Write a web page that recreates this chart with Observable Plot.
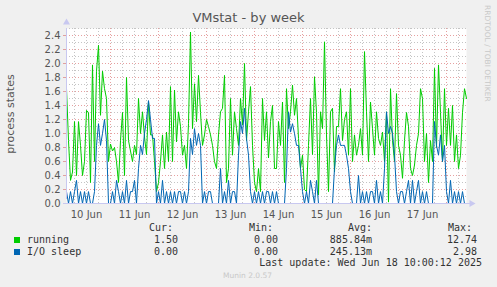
<!DOCTYPE html>
<html><head><meta charset="utf-8">
<script src="https://cdn.jsdelivr.net/npm/d3@7"></script>
<script src="https://cdn.jsdelivr.net/npm/@observablehq/plot@0.6"></script>
<style>
body{margin:0;background:#f0f0f0;}
#wrap{position:relative;width:497px;height:287px;overflow:hidden;font-family:"DejaVu Sans",sans-serif;background:#f0f0f0;}
#wrap svg{position:absolute;left:0;top:0;}
.t{position:absolute;white-space:pre;line-height:12px;}
.mono{font-family:"DejaVu Sans Mono",monospace;font-size:10px;color:#333;}
.r{text-align:right;}
.sq{position:absolute;width:6px;height:6px;}
</style></head><body><div id="wrap"></div>
<script>
// ---- data (hourly averages) ----
const startTime = Date.UTC(2025, 5, 10, 2, 0);
const endTime = Date.UTC(2025, 5, 18, 10, 0);
const stepMs = 3600e3;

const running = [
  1.64, 0.9, 0.33, 0.45, 1.17, 0.4, 1.17, 0.83, 0.4, 0.6,
  1.33, 1.3, 0.3, 1.98, 0.6, 1.89, 2.26, 1.26, 1.89, 1.64,
  1.5, 0.6, 0.85, 0.75, 0.8, 0.6, 0.3, 0.9, 1.3, 0.4,
  1.8, 0.9, 0.75, 0.6, 0.83, 0.7, 1.5, 1.0, 1.31, 0.95,
  0.7, 1.45, 0.98, 0.98, 0.6, 0.17, 0.3, 0.6, 0.98, 0.5,
  1.02, 0.6, 1.67, 0.6, 1.62, 0.88, 1.31, 1.1, 0.69, 0.83,
  0.5, 1.14, 2.45, 1.07, 1.71, 1.17, 1.83, 1.3, 0.83, 0.98,
  1.2, 1.1, 0.98, 0.83, 0.6, 0.5, 0.98, 1.31, 1.36, 1.83,
  0.3, 0.5, 1.5, 0.69, 1.31, 1.07, 0.83, 1.5, 1.12, 2.0,
  0.9, 1.31, 1.67, 0.83, 0.3, 0.17, 0.5, 0.17, 1.5, 0.9,
  1.31, 0.65, 1.17, 1.4, 0.5, 0.5, 1.17, 0.83, 1.45, 0.3,
  1.64, 1.07, 1.31, 1.69, 1.26, 1.5, 0.93, 0.5, 0.69, 0.2,
  0.17, 0.83, 1.5, 0.7, 1.81, 1.3, 0.12, 1.31, 1.07, 2.31,
  0.98, 0.17, 1.31, 1.36, 0.45, 1.1, 1.1, 1.64, 0.9, 1.2,
  1.31, 0.69, 1.64, 0.6, 0.98, 0.69, 0.83, 1.07, 0.69, 2.17,
  1.31, 0.6, 1.45, 1.07, 0.69, 1.31, 0.93, 0.83, 1.02, 0.6,
  1.31, 0.02, 1.64, 0.9, 0.6, 1.57, 0.83, 0.69, 0.36, 0.9,
  1.3, 1.1, 0.5, 0.4, 0.55, 0.83, 1.0, 1.64, 1.5, 0.6,
  1.0, 0.3, 0.9, 0.6, 1.93, 0.8, 1.98, 1.3, 0.6, 1.64,
  0.83, 1.36, 0.83, 1.4, 0.6, 0.98, 0.5, 0.69, 1.3, 1.64, 1.5
];
const ioSleep = [
  0.17, 0, 0.17, 0, 0.17, 0.33, 0, 0.17, 0, 0.17,
  0, 0.17, 0, 0, 0.17, 0.83, 1.14, 0.83, 1.0, 1.2,
  0.9, 0, 0, 0.17, 0, 0.33, 0.17, 0, 0.17, 0,
  0.33, 0, 0.17, 0.17, 0.33, 0, 0.5, 0.83, 0.7, 1.0,
  1.2, 1.47, 1.2, 0.93, 0.93, 0, 0.17, 0, 0.33, 0,
  0.17, 0, 0.17, 0, 0.17, 0, 0.17, 0.17, 0, 0.17,
  0, 0.17, 0.93, 0.7, 1.07, 0.83, 1.0, 0.83, 0, 0.17,
  0, 0.17, 0.17, 0, 0, 0, 0, 0.5, 0, 0.17,
  0, 0.33, 0, 0.17, 0.17, 0, 0.69, 1.17, 1.0, 1.36,
  0.93, 0.69, 0.17, 0, 0.17, 0, 0.17, 0, 0.17, 0,
  0.17, 0.17, 0, 0.17, 0, 0.17, 0, 0, 0, 0,
  0.5, 1.31, 1.02, 1.14, 1.0, 0.83, 0.83, 0.5, 0.17, 0,
  0.17, 0, 0.33, 0.17, 0, 0.33, 0, 0, 0, 0,
  0, 0, 0, 0, 0.5, 0.83, 0.98, 0.83, 0.83, 0.83,
  0.69, 0.5, 0.17, 0, 0, 0, 0.4, 0, 0.17, 0,
  0.17, 0, 0.17, 0.17, 0, 0.33, 0, 0.17, 0, 0.5,
  1.31, 1.0, 1.1, 1.0, 0.69, 0.17, 0, 0.17, 0.17, 0,
  0.17, 0.33, 0, 0.33, 0, 0.17, 0.33, 0, 0.17, 0,
  0.17, 0, 0, 0, 1.17, 0.83, 0.69, 0.98, 0.6, 0.83,
  0.17, 0, 0.33, 0, 0.17, 0, 0.17, 0, 0.17, 0, 0
];

const dayLabels = ["10 Jun", "11 Jun", "12 Jun", "13 Jun", "14 Jun", "15 Jun", "16 Jun", "17 Jun"];
const yTicks = [0, 0.2, 0.4, 0.6, 0.8, 1.0, 1.2, 1.4, 1.6, 1.8, 2.0, 2.2, 2.4];
const seriesNames = ["running", "I/O sleep"];
const seriesColors = ["#00CC00", "#0066B3"];
const legendCur = ["1.50", "0.00"];
const legendMin = ["0.00", "0.00"];
const legendAvg = ["885.84m", "245.13m"];
const legendMax = ["12.74", "2.98"];
const titleText = "VMstat - by week";
const yLabel = "process states";
const lastUpdate = "Last update: Wed Jun 18 10:00:12 2025";
const footer = "Munin 2.0.57";
const sideText = "RRDTOOL / TOBI OETIKER";

// ---- build ----
const rows = running.map((v, i) => ({t: new Date(startTime + i * stepMs), running: v, io: ioSleep[i]}));
const dayNoons = dayLabels.map((_, i) => new Date(Date.UTC(2025, 5, 10 + i, 12)));
const midnights = d3.utcDay.range(new Date(startTime), new Date(endTime));
const sixHours = d3.utcHour.every(6).range(new Date(startTime), new Date(endTime)).filter(d => d.getUTCHours() !== 0);
const yMinor = d3.range(1, 26, 2).map(k => k / 10);
const yMajor = yTicks.filter(v => v > 0);

const axisColor = "#c8c8f0";
const minorGrid = "#c4c4c4";
const majorGrid = "#e6a0a0";

const plot = Plot.plot({
  width: 497, height: 287,
  marginLeft: 66, marginRight: 31, marginTop: 28, marginBottom: 84,
  style: {background: "transparent", fontFamily: "DejaVu Sans, sans-serif", fontSize: "10px"},
  x: {type: "utc", domain: [new Date(startTime), new Date(endTime)]},
  y: {domain: [0, 2.5]},
  marks: [
    Plot.frame({fill: "white", stroke: "none"}),
    Plot.ruleX(sixHours, {stroke: minorGrid, strokeDasharray: "1,2"}),
    Plot.ruleY(yMinor, {stroke: minorGrid, strokeDasharray: "1,2"}),
    Plot.ruleX(midnights, {stroke: majorGrid, strokeDasharray: "1,2"}),
    Plot.ruleY(yMajor, {stroke: majorGrid, strokeDasharray: "1,2"}),
    Plot.axisX({ticks: dayNoons, tickSize: 0, tickPadding: 7, tickFormat: (d, i) => dayLabels[i], fill: "#555", label: null}),
    Plot.axisY({ticks: yTicks, tickSize: 3, tickPadding: 3, stroke: "#e0a0a0", fill: "#555", tickFormat: d3.format(".1f"), label: null}),
    Plot.lineY(rows, {x: "t", y: "running", stroke: seriesColors[0], strokeWidth: 1}),
    Plot.lineY(rows, {x: "t", y: "io", stroke: seriesColors[1], strokeWidth: 1}),
    Plot.ruleX([new Date(startTime)], {y1: 0, y2: 2.5, stroke: axisColor, insetTop: -4}),
    Plot.ruleY([0], {stroke: axisColor, insetRight: -4, insetLeft: -3}),
    Plot.dot([0], {x: () => new Date(startTime), y: 2.5, dy: -6, symbol: "triangle", r: 2.6, fill: axisColor, stroke: "none"}),
    Plot.dot([0], {x: () => new Date(endTime), y: 0, dx: 5, symbol: "triangle", r: 2.6, fill: axisColor, stroke: "none", rotate: 90})
  ]
});

const wrap = document.getElementById("wrap");
wrap.appendChild(plot);

function addText(txt, css, cls = "t") {
  const d = document.createElement("div");
  d.className = cls;
  d.textContent = txt;
  Object.assign(d.style, css);
  wrap.appendChild(d);
  return d;
}
addText(titleText, {left: "0px", width: "497px", textAlign: "center", top: "10px", fontSize: "13px", color: "#555", lineHeight: "16px"});
addText(yLabel, {left: "11px", top: "114px", fontSize: "11px", color: "#555", transform: "translate(-50%,-50%) rotate(-90deg)"});
addText(sideText, {left: "483px", top: "5px", fontSize: "7.5px", color: "#c8c8c8", writingMode: "vertical-rl", lineHeight: "9px"});

// legend
const cols = [{h: "Cur:", hx: 149, right: 178, vals: legendCur},
              {h: "Min:", hx: 249, right: 278, vals: legendMin},
              {h: "Avg:", hx: 348, right: 372, vals: legendAvg},
              {h: "Max:", hx: 448, right: 477, vals: legendMax}];
cols.forEach(c => addText(c.h, {left: c.hx + "px", top: "222px"}, "t mono"));
seriesNames.forEach((name, i) => {
  const top = 234 + i * 11.5;
  const sq = document.createElement("div");
  sq.className = "sq";
  Object.assign(sq.style, {left: "14px", top: (top + 3) + "px", background: seriesColors[i]});
  wrap.appendChild(sq);
  addText(name, {left: "27px", top: top + "px"}, "t mono");
  cols.forEach(c => addText(c.vals[i], {right: (497 - c.right) + "px", top: top + "px"}, "t mono r"));
});
addText(lastUpdate, {right: (497 - 482) + "px", top: "257px"}, "t mono r");
addText(footer, {left: "223px", top: "270px", fontSize: "7.5px", color: "#c8c8c8"});
</script></body></html>
